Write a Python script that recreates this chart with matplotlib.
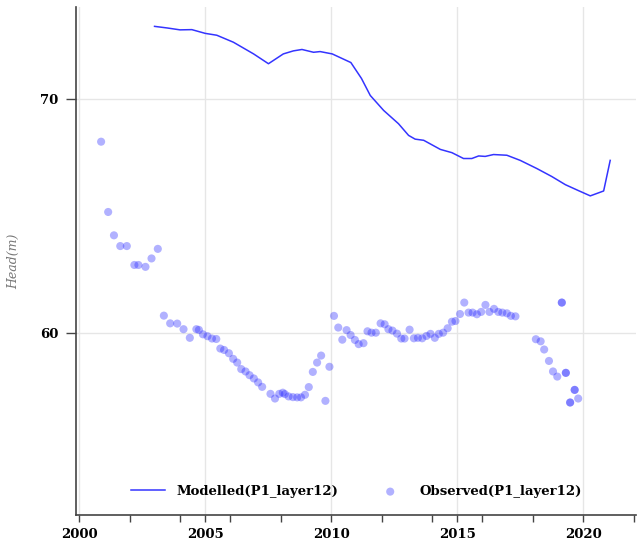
import numpy as np
import matplotlib
matplotlib.use('Agg')
import matplotlib.pyplot as plt
from matplotlib.ticker import MultipleLocator, FixedLocator

# Serie modelada (año decimal, nivel en m)
anios_mod = [2002.99, 2003.5, 2004.0, 2004.47, 2005.0, 2005.46, 2006.12, 2006.92,
             2007.51, 2008.1, 2008.5, 2008.84, 2009.3, 2009.56, 2010.04, 2010.78,
             2011.2, 2011.55, 2012.08, 2012.67, 2013.07, 2013.33, 2013.67, 2014.33,
             2014.79, 2015.25, 2015.58, 2015.85, 2016.11, 2016.44, 2016.97, 2017.5,
             2018.16, 2018.75, 2019.29, 2019.8, 2020.28, 2020.81, 2021.07]
nivel_mod = [73.13, 73.06, 72.98, 72.99, 72.83, 72.75, 72.45, 71.95,
             71.53, 71.95, 72.08, 72.14, 72.02, 72.05, 71.95, 71.58,
             70.9, 70.17, 69.53, 68.96, 68.46, 68.30, 68.25, 67.86,
             67.72, 67.47, 67.47, 67.58, 67.56, 67.64, 67.61, 67.39,
             67.04, 66.70, 66.35, 66.10, 65.87, 66.08, 67.39]

# Serie observada
anios_obs = [2000.87, 2001.15, 2001.38, 2001.63, 2001.89, 2002.19, 2002.35, 2002.63,
             2002.87, 2003.12, 2003.36, 2003.61, 2003.89, 2004.14, 2004.39, 2004.65,
             2004.75, 2004.91, 2005.09, 2005.27, 2005.44, 2005.6, 2005.75, 2005.94,
             2006.11, 2006.27, 2006.43, 2006.6, 2006.76, 2006.93, 2007.10, 2007.26,
             2007.59, 2007.77, 2007.94, 2008.08, 2008.16, 2008.31, 2008.48, 2008.65,
             2008.8, 2008.96, 2009.11, 2009.27, 2009.44, 2009.6, 2009.77, 2009.93,
             2010.11, 2010.28, 2010.44, 2010.61, 2010.77, 2010.94, 2011.09, 2011.28,
             2011.44, 2011.6, 2011.77, 2011.96, 2012.12, 2012.27, 2012.43, 2012.61,
             2012.78, 2012.91, 2013.11, 2013.28, 2013.44, 2013.61, 2013.78, 2013.94,
             2014.11, 2014.27, 2014.44, 2014.62, 2014.79, 2014.93, 2015.11, 2015.28,
             2015.45, 2015.61, 2015.78, 2015.95, 2016.12, 2016.28, 2016.46, 2016.63,
             2016.79, 2016.97, 2017.13, 2017.31, 2018.12, 2018.31, 2018.45, 2018.64,
             2018.8, 2018.97, 2019.15, 2019.15, 2019.31, 2019.31, 2019.48, 2019.48,
             2019.66, 2019.66, 2019.8]
nivel_obs = [68.19, 65.18, 64.18, 63.72, 63.72, 62.91, 62.91, 62.83,
             63.19, 63.60, 60.74, 60.41, 60.40, 60.16, 59.79, 60.16,
             60.13, 59.94, 59.86, 59.76, 59.74, 59.33, 59.27, 59.13,
             58.89, 58.73, 58.45, 58.35, 58.19, 58.05, 57.88, 57.69,
             57.39, 57.19, 57.39, 57.44, 57.38, 57.28, 57.25, 57.24,
             57.24, 57.35, 57.68, 58.33, 58.73, 59.03, 57.09, 58.55,
             60.73, 60.23, 59.71, 60.12, 59.91, 59.70, 59.52, 59.56,
             60.07, 60.01, 60.01, 60.41, 60.37, 60.16, 60.10, 59.97,
             59.76, 59.76, 60.14, 59.77, 59.79, 59.77, 59.87, 59.96,
             59.79, 59.96, 60.01, 60.20, 60.48, 60.51, 60.81, 61.30,
             60.87, 60.87, 60.80, 60.90, 61.20, 60.90, 61.03, 60.90,
             60.87, 60.84, 60.73, 60.71, 59.73, 59.64, 59.29, 58.80,
             58.35, 58.13, 61.30, 61.30, 58.29, 58.29, 57.02, 57.02,
             57.56, 57.56, 57.19]

etiquetas_x = ['2000', '2005', '2010', '2015', '2020']
etiquetas_y = ['60', '70']

fig = plt.figure(figsize=(6.4, 5.55), dpi=100)
ax = fig.add_axes([0.119, 0.072, 0.875, 0.915])

ax.plot(anios_mod, nivel_mod, color='#3434ff', linewidth=1.1,
        label='Modelled(P1_layer12)', zorder=3)
ax.scatter(anios_obs, nivel_obs, s=34, color='#2020ff', alpha=0.35,
           edgecolors='none', label='Observed(P1_layer12)', zorder=2)

ax.set_xlim(1999.88, 2022.1)
ax.set_ylim(52.2, 73.95)

ax.xaxis.set_major_locator(FixedLocator([int(e) for e in etiquetas_x]))
ax.xaxis.set_minor_locator(MultipleLocator(2))
ax.set_xticklabels(etiquetas_x)
ax.yaxis.set_major_locator(FixedLocator([int(e) for e in etiquetas_y]))
ax.set_yticklabels(etiquetas_y)

ax.grid(True, which='major', color='#e6e6e6', linewidth=1)
ax.set_axisbelow(True)
for lado in ['top', 'right']:
    ax.spines[lado].set_visible(False)
for lado in ['left', 'bottom']:
    ax.spines[lado].set_color('#444444')
    ax.spines[lado].set_linewidth(1.2)

ax.tick_params(axis='x', which='both', length=5, width=1, color='#444444', pad=4)
ax.tick_params(axis='y', which='major', length=7, width=1, color='#444444', pad=6)
for t in ax.get_xticklabels() + ax.get_yticklabels():
    t.set_fontfamily('DejaVu Serif')
    t.set_fontweight('bold')
    t.set_fontsize(9.5)

ax.set_ylabel('Head(m)', fontfamily='DejaVu Serif', fontstyle='italic',
              color='#777777', fontsize=9, labelpad=14)

leg = ax.legend(loc='lower center', ncol=2, frameon=False, bbox_to_anchor=(0.5, 0.01),
                prop={'family': 'DejaVu Serif', 'weight': 'bold', 'size': 9.5},
                columnspacing=2.6, handlelength=2.6, handletextpad=0.9)

fig.savefig('out.png', dpi=100)
